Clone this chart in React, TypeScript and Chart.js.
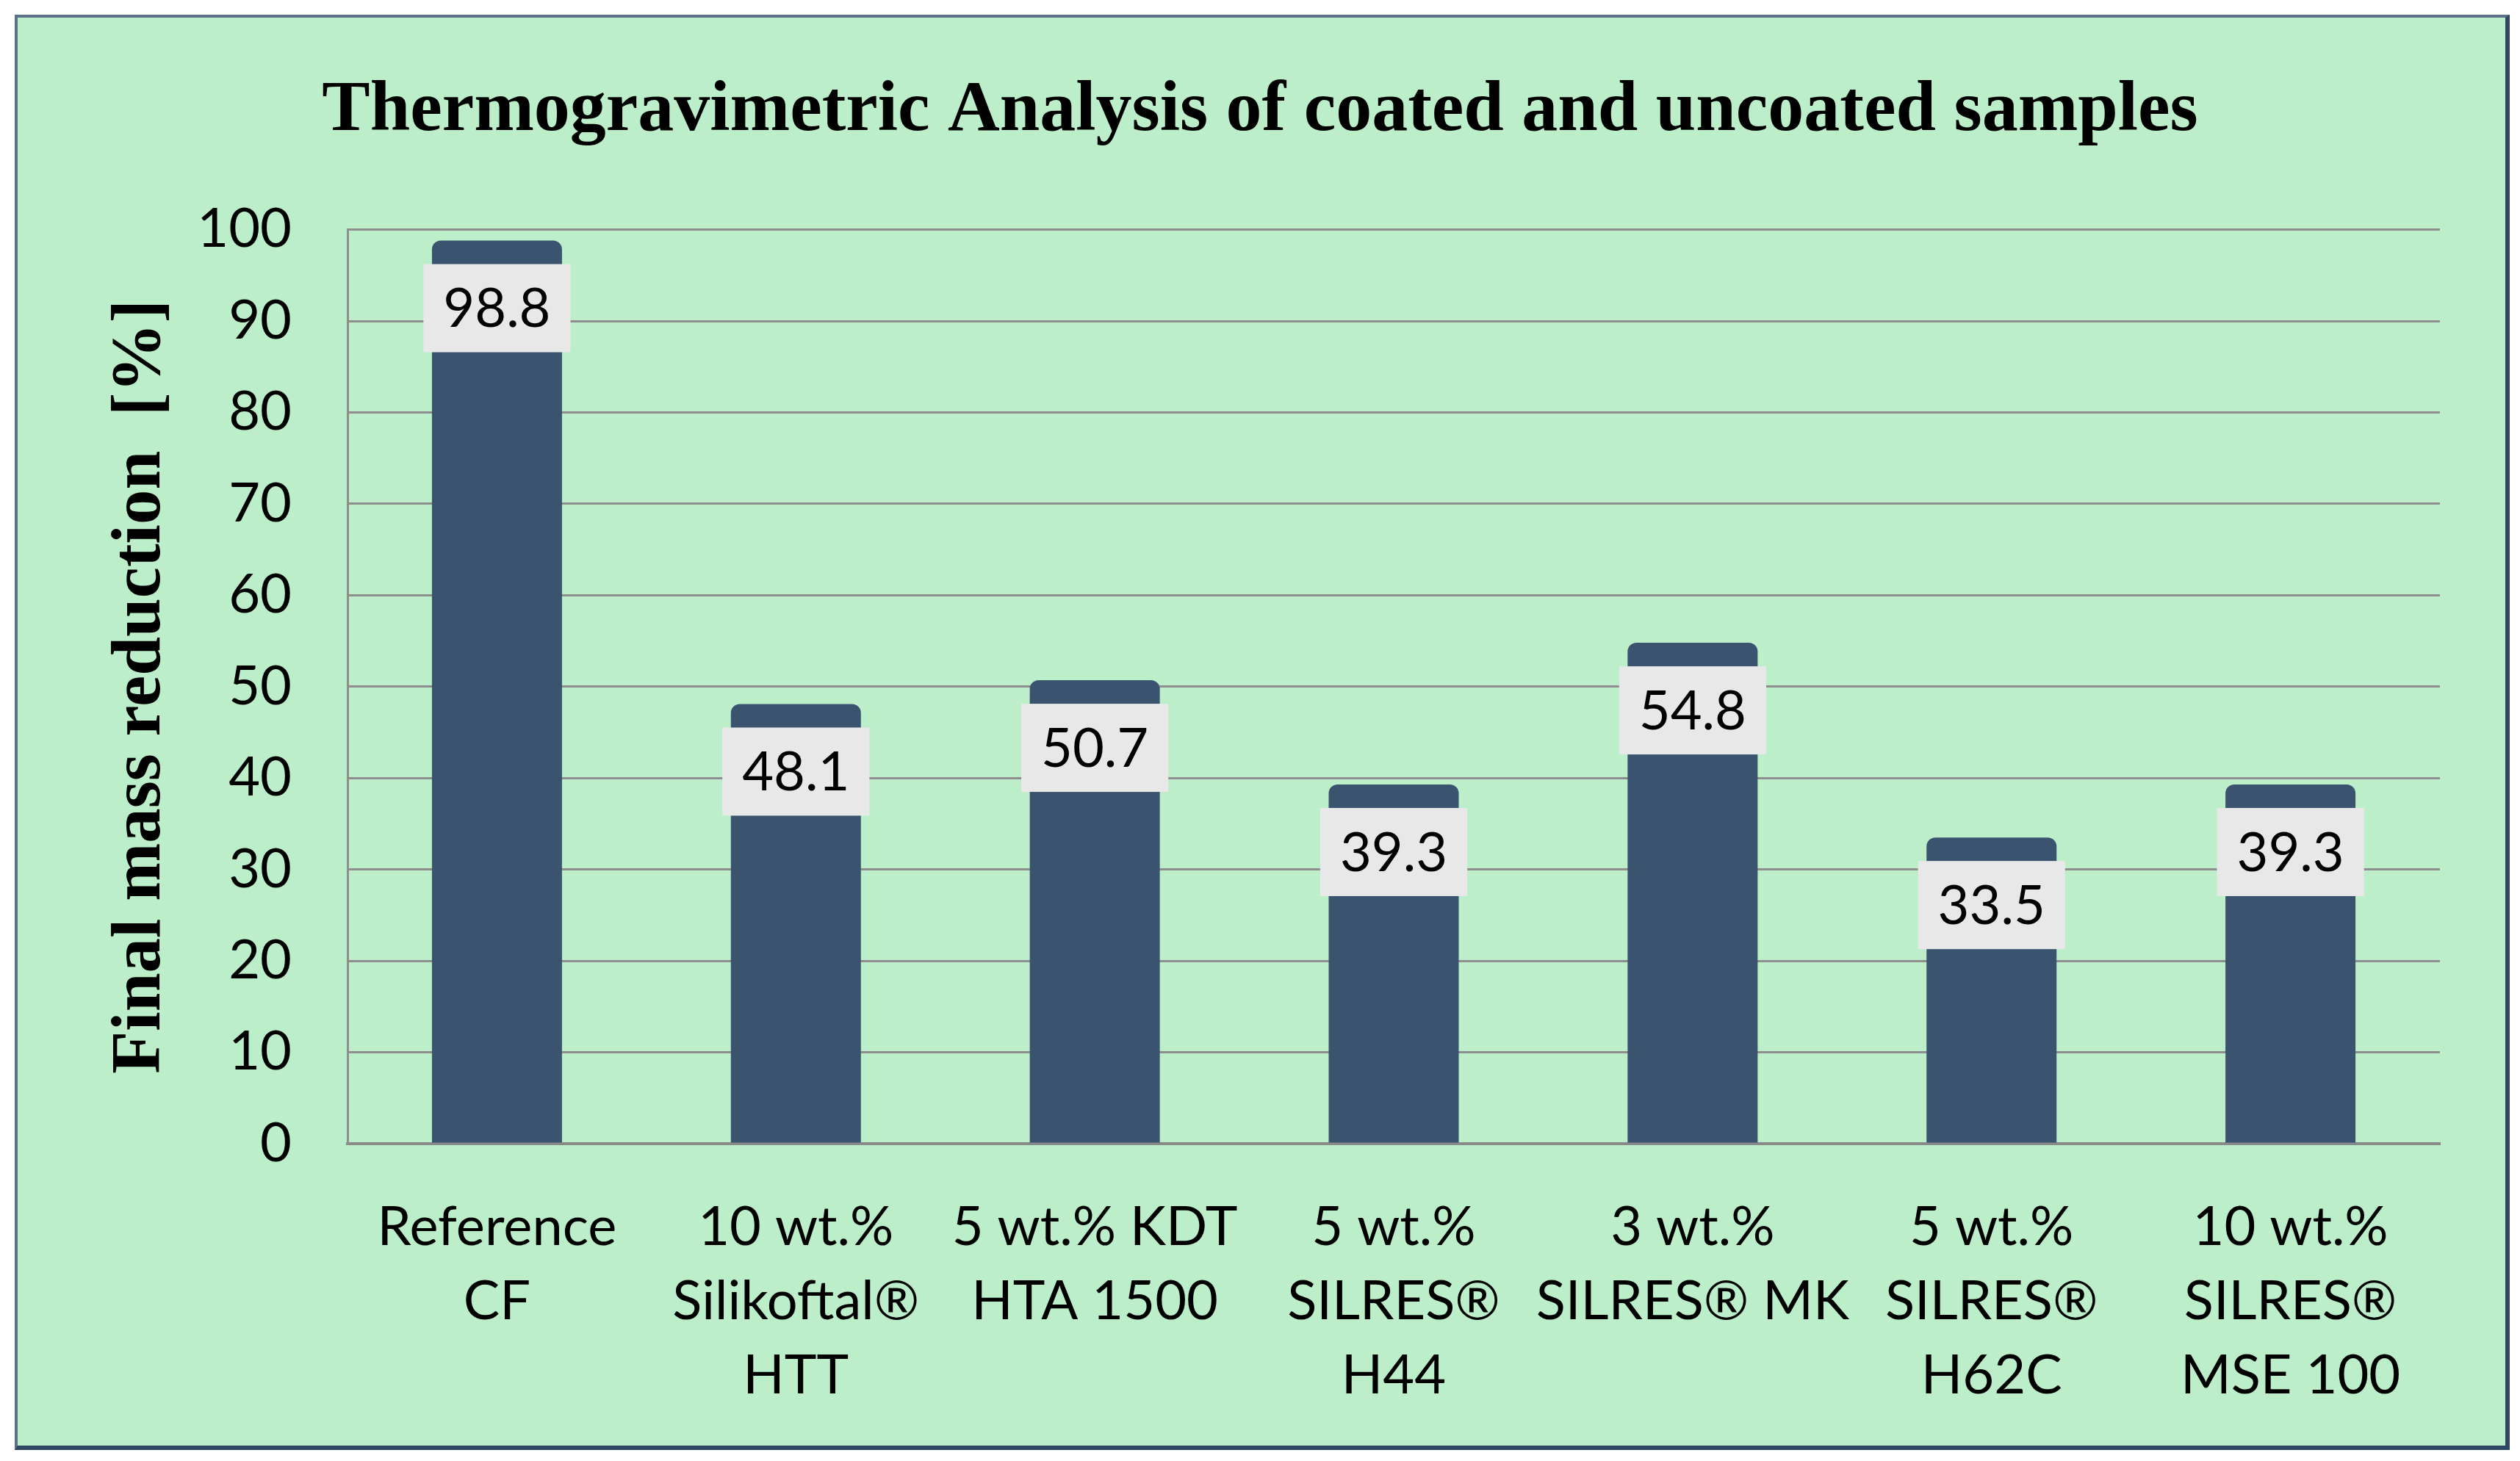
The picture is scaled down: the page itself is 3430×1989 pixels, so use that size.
import Chart from 'chart.js/auto'
import { useEffect, useRef } from 'react'

const categories: string[][] = [
  ['Reference', 'CF'],
  ['10 wt.%', 'Silikoftal®', 'HTT'],
  ['5 wt.% KDT', 'HTA 1500'],
  ['5 wt.%', 'SILRES®', 'H44'],
  ['3 wt.%', 'SILRES® MK'],
  ['5 wt.%', 'SILRES®', 'H62C'],
  ['10 wt.%', 'SILRES®', 'MSE 100'],
]
const massReduction = [98.8, 48.1, 50.7, 39.3, 54.8, 33.5, 39.3]
const yTicks = [0, 10, 20, 30, 40, 50, 60, 70, 80, 90, 100]

const W = 3430
const H = 1989
const sans = "Lato, 'Open Sans', sans-serif"
const serif = "'Liberation Serif', 'DejaVu Serif', serif"

// grey boxes with the value, sitting just under the top of each bar
const valueLabels = {
  id: 'valueLabels',
  afterDatasetsDraw(chart: Chart) {
    const ctx = chart.ctx
    const meta = chart.getDatasetMeta(0)
    ctx.save()
    ctx.font = `74px ${sans}`
    ctx.textAlign = 'center'
    ctx.textBaseline = 'middle'
    meta.data.forEach((bar: any, i: number) => {
      const text = massReduction[i].toFixed(1)
      const w = ctx.measureText(text).width + 54
      const h = 120
      const cy = bar.y + 92
      ctx.fillStyle = '#e8e8e8'
      ctx.fillRect(bar.x - w / 2, cy - h / 2, w, h)
      ctx.fillStyle = '#000000'
      ctx.fillText(text, bar.x, cy + 2)
    })
    ctx.restore()
  },
}

const TgaChart = () => {
  const canvasRef = useRef<HTMLCanvasElement>(null)
  const chartRef = useRef<Chart | null>(null)

  useEffect(() => {
    if (canvasRef.current) {
      chartRef.current = new Chart(canvasRef.current, {
        type: 'bar',
        data: {
          labels: categories,
          datasets: [
            {
              label: 'Final mass reduction',
              data: massReduction,
              backgroundColor: '#3a536e',
              borderRadius: { topLeft: 12, topRight: 12, bottomLeft: 0, bottomRight: 0 },
              borderSkipped: false,
              barPercentage: 0.435,
              categoryPercentage: 1,
            },
          ],
        },
        options: {
          responsive: false,
          animation: false,
          layout: { padding: 0 },
          scales: {
            x: {
              grid: { display: false },
              border: { display: true, color: '#8a8a8a', width: 4 },
              ticks: {
                color: '#000000',
                padding: 55,
                maxRotation: 0,
                autoSkip: false,
                font: { family: sans, size: 74, lineHeight: 1.37 },
              },
              afterFit: (scale: any) => {
                scale.height = 432
              },
            },
            y: {
              min: 0,
              max: 100,
              afterBuildTicks: (scale: any) => {
                scale.ticks = yTicks.map((v) => ({ value: v }))
              },
              grid: { color: '#8e8e8e', lineWidth: 3, drawTicks: false },
              border: { display: true, color: '#8e8e8e', width: 3 },
              ticks: {
                color: '#000000',
                padding: 76,
                font: { family: sans, size: 74 },
              },
              title: {
                display: true,
                text: 'Final mass reduction  [%]',
                color: '#000000',
                padding: { top: 135, bottom: 0 },
                font: { family: serif, size: 95, weight: 'bold', lineHeight: 1.2 },
              },
              afterFit: (scale: any) => {
                scale.width = 473
              },
            },
            // empty right-hand axis, only reserves the margin right of the plot
            yRight: {
              position: 'right',
              min: 0,
              max: 100,
              grid: { display: false },
              border: { display: false },
              ticks: { display: false },
              afterFit: (scale: any) => {
                scale.width = 109
              },
            },
          },
          plugins: {
            legend: { display: false },
            tooltip: { enabled: false },
            title: {
              display: true,
              text: 'Thermogravimetric Analysis of coated and uncoated samples',
              color: '#000000',
              padding: { top: 93, bottom: 102 },
              font: { family: serif, size: 98, weight: 'bold', lineHeight: 1.2 },
            },
          },
        },
        plugins: [valueLabels],
      })
    }
    return () => {
      if (chartRef.current) {
        chartRef.current.destroy()
      }
    }
  }, [])

  return (
    <div style={{ position: 'absolute', left: 0, top: 0, width: W, height: H, background: '#ffffff' }}>
      <div
        style={{
          position: 'absolute',
          left: 20,
          top: 20,
          width: 3386,
          height: 1944,
          background: '#bbeec9',
          borderLeft: '4px solid #5b7189',
          borderTop: '4px solid #5b7189',
          borderRight: '6px solid #2f4763',
          borderBottom: '6px solid #2f4763',
        }}
      />
      <canvas
        ref={canvasRef}
        width={W}
        height={H}
        style={{ position: 'absolute', left: 0, top: 0 }}
      ></canvas>
    </div>
  )
}

export default function App() {
  return <TgaChart />
}
